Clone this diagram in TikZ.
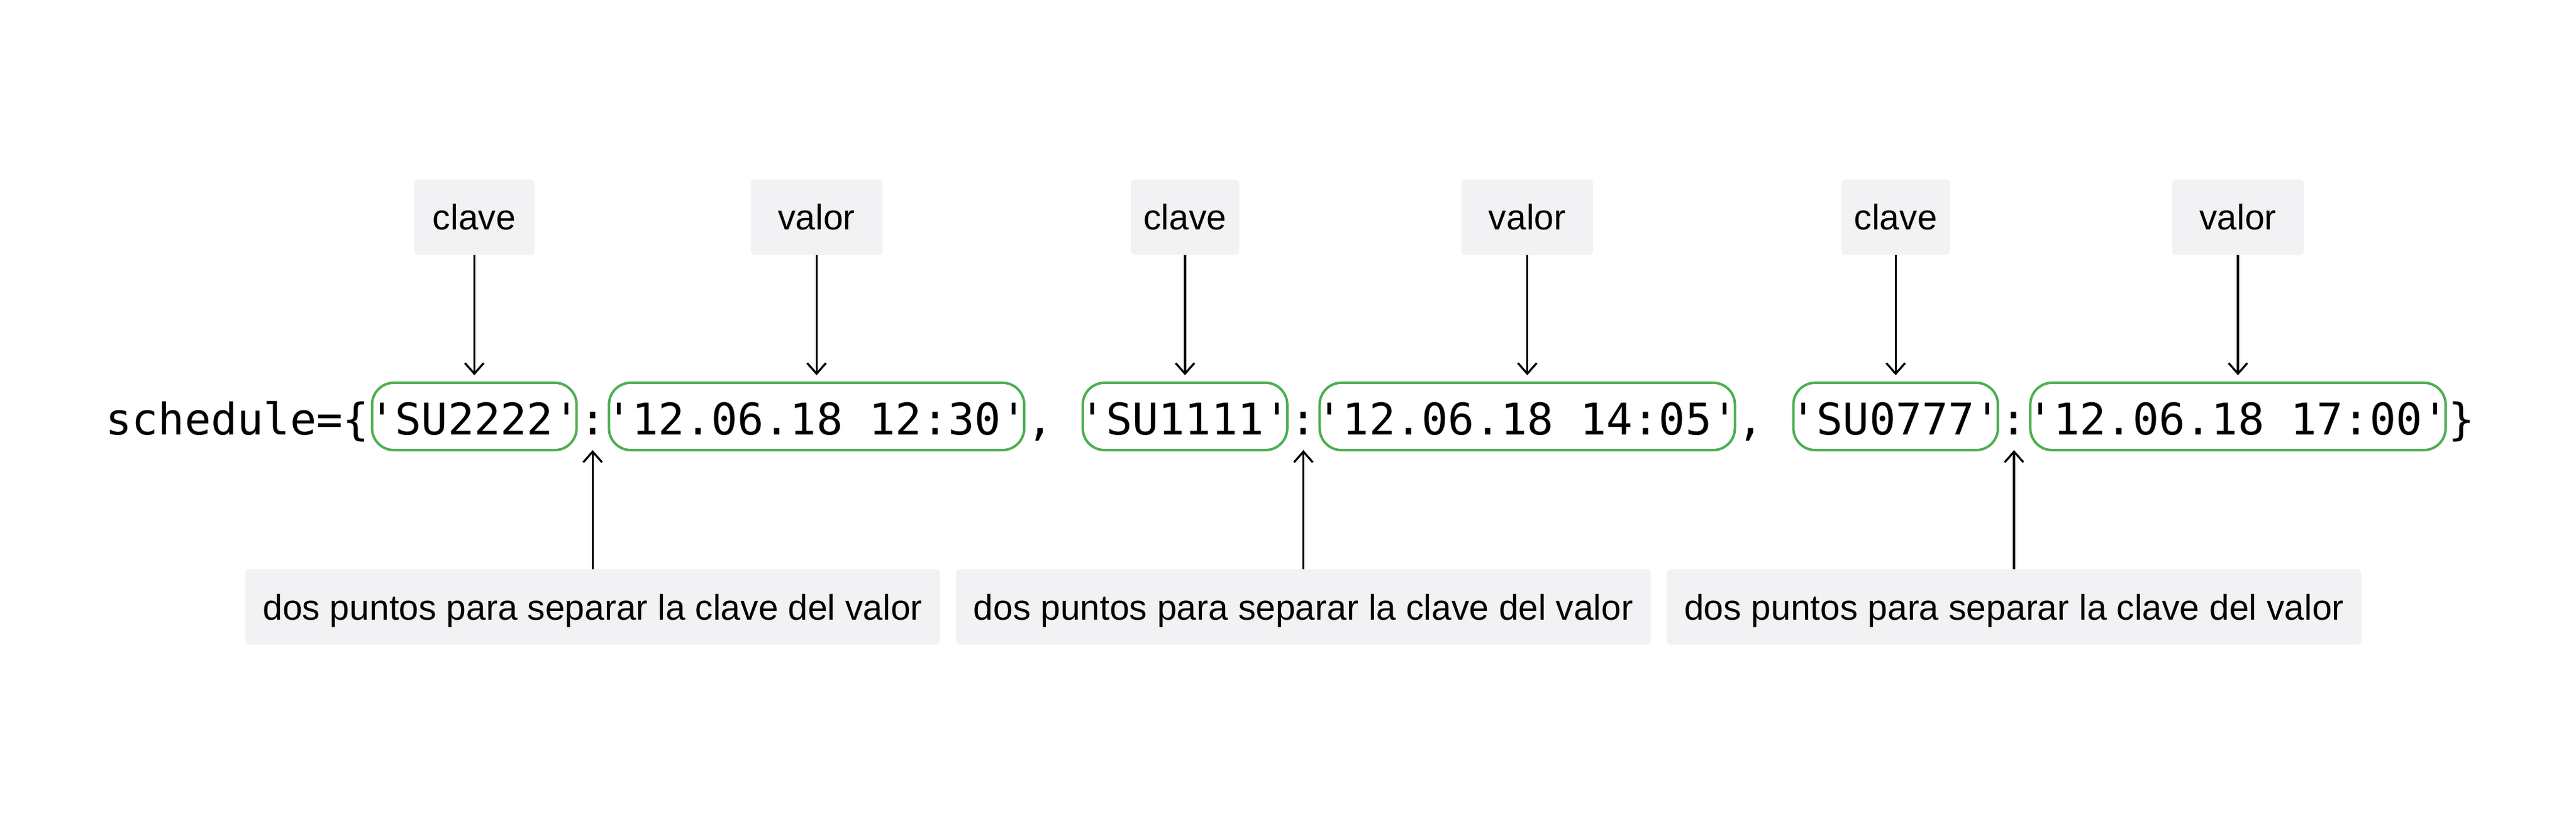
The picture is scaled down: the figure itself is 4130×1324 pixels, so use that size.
\documentclass[tikz,border=0pt]{standalone}
\usepackage{fontspec}
\setmonofont{DejaVu Sans Mono}[Numbers=SlashedZero]
\newfontfamily\labelfont{Liberation Sans}
\usepackage{tikz}
\usetikzlibrary{positioning,arrows.meta}

\definecolor{tagfill}{RGB}{242,242,244}
\definecolor{pairgreen}{RGB}{76,175,80}

\tikzset{
  code/.style={font=\ttfamily\fontsize{19.95pt}{24pt}\selectfont, inner sep=0pt, outer sep=0pt,
    text height=0.83cm, text depth=0.25cm, anchor=text},
  pair/.style={code, draw=pairgreen, line width=0.04cm, rounded corners=0.35cm, inner xsep=-0.05cm},
  tag/.style={fill=tagfill, rounded corners=0.07cm, inner sep=0pt, outer sep=0pt, minimum height=1.21cm,
    text height=0.41cm, text depth=0cm, font=\labelfont\fontsize{16.2pt}{19pt}\selectfont}
}

\begin{document}
\begin{tikzpicture}[x=0.01cm, y=-0.01cm, line width=0.033cm, >={Straight Barb[length=0.17cm, width=0.3cm]}]
    \useasboundingbox (0,0) rectangle (4130,1324);

    \node [code] (open) at (169.5,697) {schedule=\{};
    \foreach \c [count=\i] in {35,62}
      \node [code] (comma-\i) at ({169.5+42.2*\c},697) {,};
    \node [code] (close) at ({169.5+42.2*89},697) {\}};

    \foreach \g/\k/\v/\o/\w in {1/SU2222/12.06.18 12:30/10/1.93, 2/SU1111/12.06.18 14:05/37/1.74, 3/SU0777/12.06.18 17:00/64/1.74}
    {
      \node [pair] (key-\g) at ({169.5+42.2*\o},697) {'\k'};
      \node [code] (colon-\g) at ({169.5+42.2*(\o+8)},697) {:};
      \node [pair] (value-\g) at ({169.5+42.2*(\o+9)},697) {'\v'};

      \node [tag, minimum width=\w cm, above=2.05cm of key-\g] (clave-\g) {clave};
      \node [tag, minimum width=2.11cm, above=2.05cm of value-\g] (valor-\g) {valor};
      \node [tag, minimum width=11.13cm, below=1.91cm of colon-\g] (sep-\g) {dos puntos para separar la clave del valor};

      \draw [->, shorten >=0.12cm] (clave-\g) -- (clave-\g.south |- key-\g.north);
      \draw [->, shorten >=0.12cm] (valor-\g) -- (valor-\g.south |- value-\g.north);
      \draw [->] (sep-\g) -- (sep-\g.north |- colon-\g.south);
    }
\end{tikzpicture}
\end{document}
